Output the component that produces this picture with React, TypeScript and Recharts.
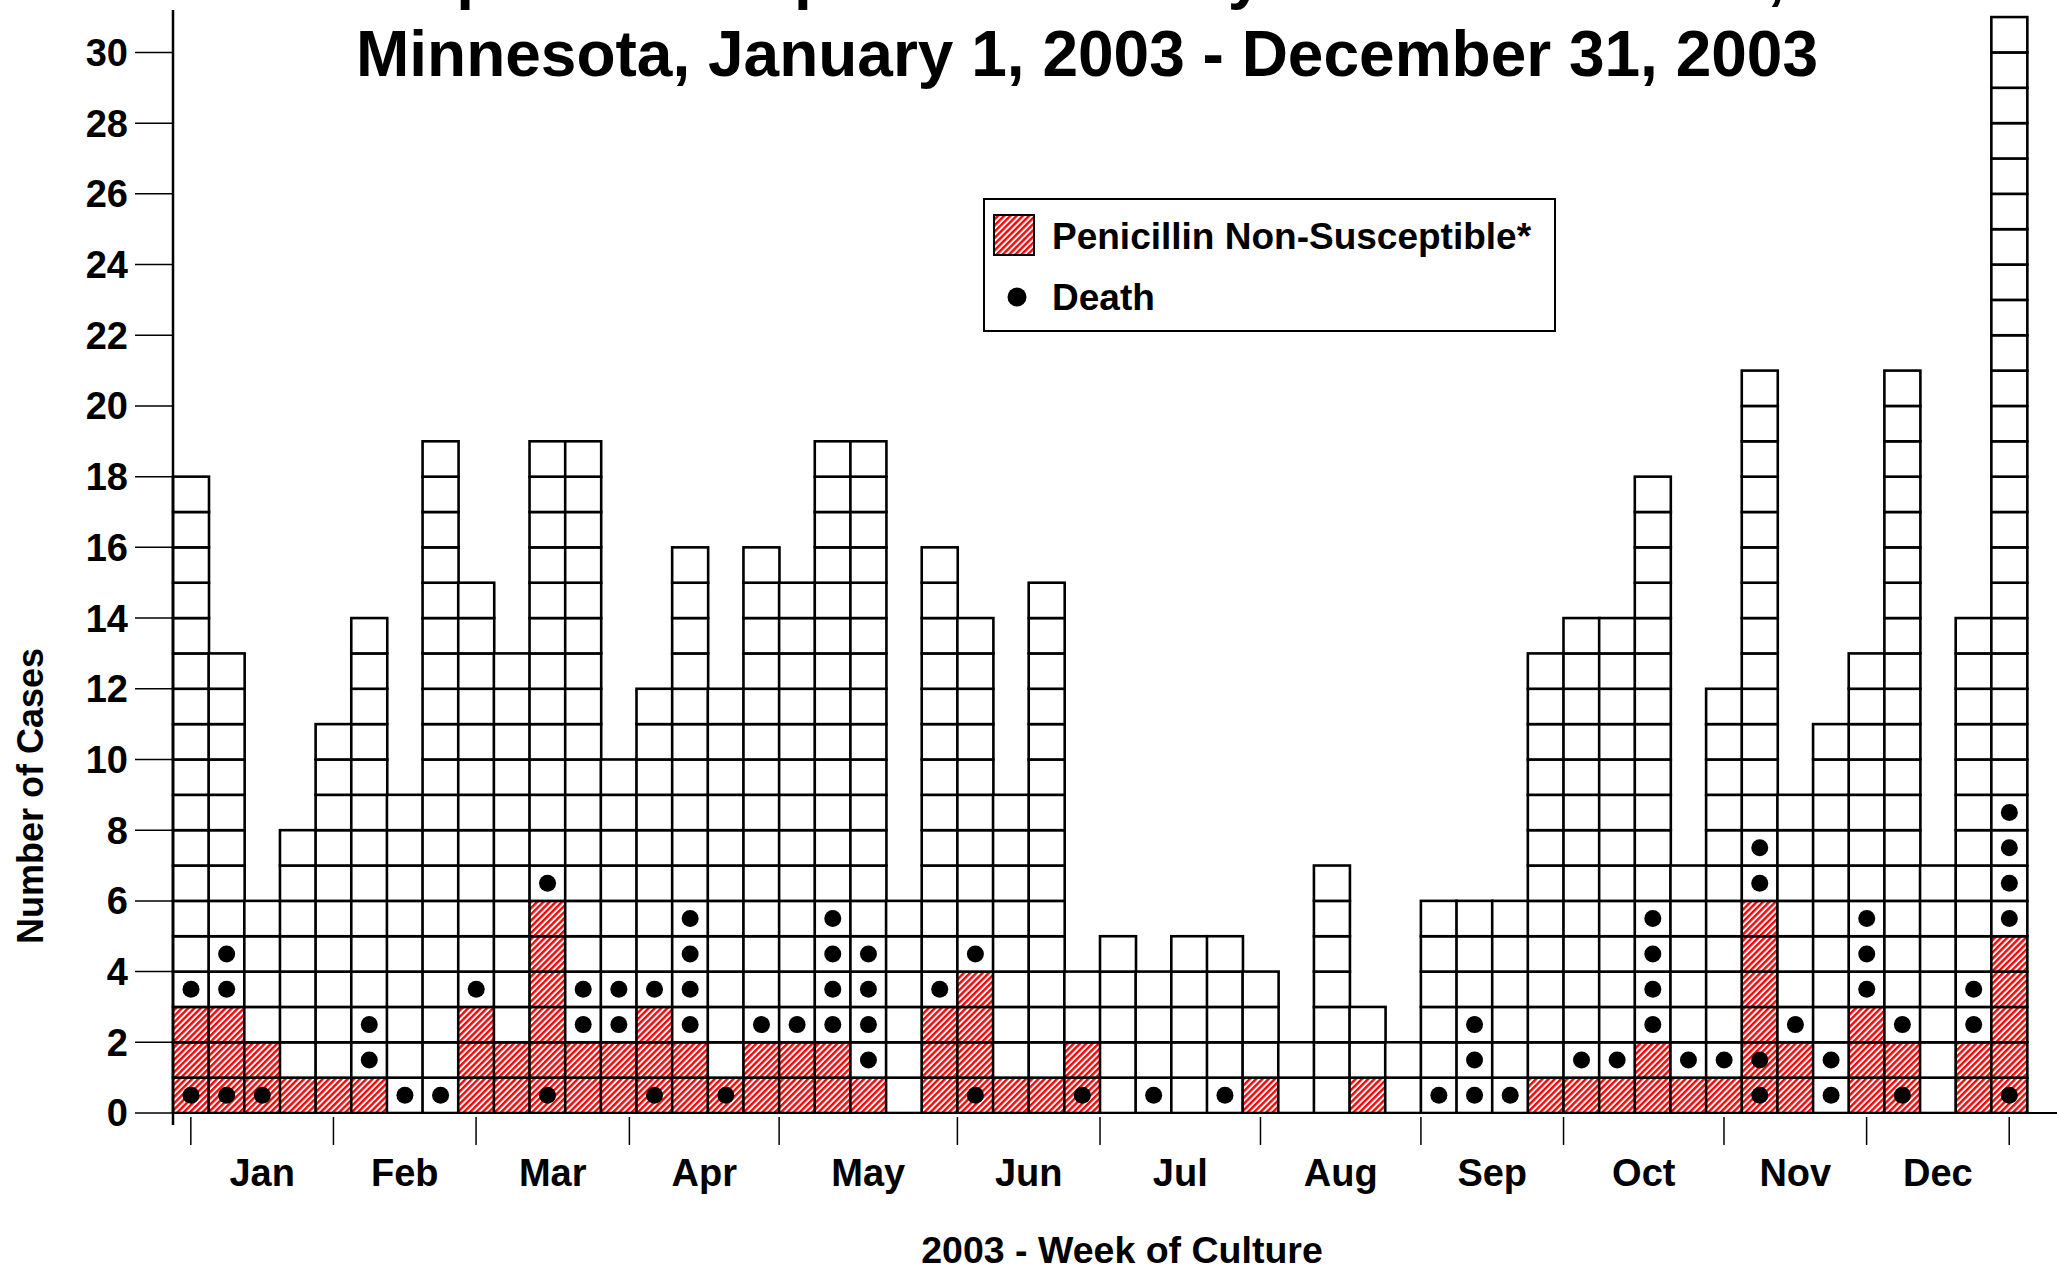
import * as React from "react";
import {
  ComposedChart,
  Bar,
  XAxis,
  YAxis,
  ReferenceLine,
  Legend,
} from "recharts";

const FONT = "'Liberation Sans', Arial, Helvetica, sans-serif";

// one entry per week of culture, 2003
const weekNumbers = Array.from({ length: 52 }, (_, i) => i + 1);

const totalCases = [
  18, 13, 6, 8, 11, 14, 9, 19, 15, 13, 19, 19, 10, 12, 16, 12, 16, 15, 19, 19,
  6, 16, 14, 9, 15, 4, 5, 4, 5, 5, 4, 2, 7, 3, 2, 6, 6, 6, 13, 14, 14, 18, 7,
  12, 21, 9, 11, 13, 21, 7, 14, 31,
];

const penicillinNonSusceptible = [
  3, 3, 2, 1, 1, 1, 0, 0, 3, 2, 6, 2, 2, 3, 2, 1, 2, 2, 2, 1, 0, 3, 4, 1, 1, 2,
  0, 0, 0, 0, 1, 0, 0, 1, 0, 0, 0, 0, 1, 1, 1, 2, 1, 1, 6, 2, 0, 3, 2, 0, 2, 5,
];

// which case boxes (counted from the bottom, 1-based) carry a death dot
const deathBoxes: number[][] = [
  [1, 4], [1, 4, 5], [1], [], [], [2, 3], [1], [1], [4], [], [1, 7], [3, 4],
  [3, 4], [1, 4], [3, 4, 5, 6], [1], [3], [3], [3, 4, 5, 6], [2, 3, 4, 5], [],
  [4], [1, 5], [], [], [1], [], [1], [], [1], [], [], [], [], [], [1],
  [1, 2, 3], [1], [], [2], [2], [3, 4, 5, 6], [2], [2], [1, 2, 7, 8], [3],
  [1, 2], [4, 5, 6], [1, 3], [], [3, 4], [1, 6, 7, 8, 9],
];

// month boundaries in week units, labels sit halfway between them
const monthEdges = [0.5, 4.5, 8.5, 12.8, 17, 22, 26, 30.5, 35, 39, 43.5, 47.5, 51.5];
const monthNames = ["Jan", "Feb", "Mar", "Apr", "May", "Jun", "Jul", "Aug", "Sep", "Oct", "Nov", "Dec"];
const yTicks = [0, 2, 4, 6, 8, 10, 12, 14, 16, 18, 20, 22, 24, 26, 28, 30];

// the time axis runs a little past the last week
const axisEnd = 52.84;

const data = weekNumbers.map((week, i) => ({
  week,
  mid: week - 0.5,
  total: totalCases[i],
  pns: penicillinNonSusceptible[i],
  deaths: deathBoxes[i],
}));

const monthMids = monthNames.map((_, i) => (monthEdges[i] + monthEdges[i + 1]) / 2);
const monthTicks = [...monthEdges, ...monthMids];

const Hatch = ({ id }: { id: string }) => (
  <pattern id={id} patternUnits="userSpaceOnUse" width={4.4} height={4.4} patternTransform="rotate(45)">
    <rect x={0} y={0} width={4.4} height={4.4} fill="#fff" />
    <rect x={0} y={0} width={2.4} height={4.4} fill="#ff0000" />
  </pattern>
);

const CaseStack = (props: any) => {
  const { x, y, width, height, payload } = props;
  const n = payload.total;
  if (!n || !height) return <g />;
  const h = height / n;
  const boxes = [];
  for (let i = 0; i < n; i++) {
    boxes.push(
      <rect
        key={i}
        x={x}
        y={y + height - (i + 1) * h}
        width={width}
        height={h}
        fill={i < payload.pns ? "url(#pnsHatch)" : "#fff"}
        stroke="#000"
        strokeWidth={2.6}
      />
    );
  }
  return (
    <g>
      {boxes}
      {payload.deaths.map((r: number) => (
        <circle key={"d" + r} cx={x + width / 2} cy={y + height - (r - 0.5) * h} r={8.5} fill="#000" />
      ))}
    </g>
  );
};

const MonthTick = (props: any) => {
  const { x, y, payload } = props;
  const v = payload.value;
  const mi = monthMids.indexOf(v);
  if (mi >= 0) {
    return (
      <text x={x} y={y + 61} textAnchor="middle" fontFamily={FONT} fontWeight="bold" fontSize={38} fill="#000">
        {monthNames[mi]}
      </text>
    );
  }
  return <line x1={x} x2={x} y1={y - 8} y2={y + 20} stroke="#000" strokeWidth={1.5} />;
};

const LegendBox = () => (
  <svg width={573} height={134} style={{ display: "block" }}>
    <defs>
      <Hatch id="pnsHatchLegend" />
    </defs>
    <rect x={1} y={1} width={571} height={132} fill="#fff" stroke="#000" strokeWidth={2} />
    <rect x={11} y={17} width={40} height={40} fill="url(#pnsHatchLegend)" stroke="#000" strokeWidth={2} />
    <text x={69} y={38} dominantBaseline="central" fontFamily={FONT} fontWeight="bold" fontSize={37} fill="#000">
      Penicillin Non-Susceptible*
    </text>
    <circle cx={34} cy={99} r={9.5} fill="#000" />
    <text x={69} y={99} dominantBaseline="central" fontFamily={FONT} fontWeight="bold" fontSize={37} fill="#000">
      Death
    </text>
  </svg>
);

export default function App() {
  return (
    <div style={{ position: "absolute", left: 0, top: 0, width: 2057, height: 1272, background: "#fff" }}>
      <ComposedChart
        width={2057}
        height={1272}
        data={data}
        margin={{ top: 10, right: 0, bottom: 87, left: 0 }}
        barCategoryGap={0}
        barGap={0}
      >
        <defs>
          <Hatch id="pnsHatch" />
        </defs>
        <XAxis xAxisId="w" dataKey="week" type="category" hide orientation="top" height={0} padding={{ left: 0, right: 30 }} />
        <XAxis
          xAxisId="m"
          dataKey="mid"
          type="number"
          domain={[0, axisEnd]}
          allowDataOverflow
          ticks={monthTicks}
          interval={0}
          axisLine={false}
          tickLine={false}
          tickSize={0}
          tickMargin={0}
          height={60}
          tick={<MonthTick />}
        />
        <YAxis
          type="number"
          domain={[0, 31.2]}
          allowDataOverflow
          ticks={yTicks}
          interval={0}
          width={173}
          padding={{ top: 0, bottom: 12 }}
          axisLine={{ stroke: "#000", strokeWidth: 2.5 }}
          tickLine={{ stroke: "#000", strokeWidth: 1.5 }}
          tickSize={38}
          tickMargin={7}
          tick={{ fill: "#000", fontSize: 38, fontWeight: "bold", fontFamily: FONT }}
        />
        <Bar xAxisId="w" dataKey="total" shape={<CaseStack />} isAnimationActive={false} />
        <ReferenceLine xAxisId="m" y={0} stroke="#000" strokeWidth={2} />
        <Legend
          verticalAlign="middle"
          align="center"
          layout="horizontal"
          content={<LegendBox />}
          wrapperStyle={{ left: 983, top: 198, width: 573, height: 134 }}
        />
      </ComposedChart>
      <svg
        width={2057}
        height={1272}
        style={{ position: "absolute", left: 0, top: 0, pointerEvents: "none" }}
      >
        <g fontFamily={FONT} fontWeight="bold" fill="#000">
          <text x={1785} y={-3} textAnchor="end" fontSize={64}>
            Streptococcus pneumoniae by Week of Culture,
          </text>
          <text x={1087} y={76} textAnchor="middle" fontSize={64}>
            Minnesota, January 1, 2003 - December 31, 2003
          </text>
          <text x={1122} y={1263} textAnchor="middle" fontSize={37.5}>
            2003 - Week of Culture
          </text>
          <text x={30} y={796} textAnchor="middle" dominantBaseline="central" fontSize={36} transform="rotate(-90 30 796)">
            Number of Cases
          </text>
        </g>
      </svg>
    </div>
  );
}
